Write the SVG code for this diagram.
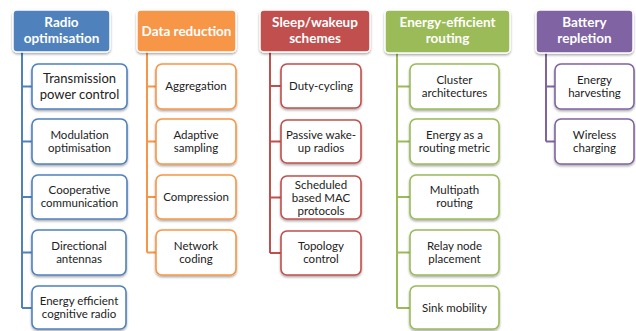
<svg xmlns="http://www.w3.org/2000/svg" width="636" height="331" viewBox="0 0 636 331">
<defs>
<filter id="sh" x="-10%" y="-10%" width="130%" height="140%">
<feDropShadow dx="0" dy="1.5" stdDeviation="1.2" flood-color="#000" flood-opacity="0.35"/>
</filter>
<style>
.h{stroke:#fff;stroke-width:1.5;filter:url(#sh)}
.c{fill:#fff;stroke-width:1.6;filter:url(#sh)}
.ht{font-family:Lato,"Liberation Sans",sans-serif;font-weight:bold;font-size:13.5px;fill:#fff;text-anchor:middle}
.ct{font-family:Lato,"Liberation Sans",sans-serif;font-size:11.5px;fill:#222;text-anchor:middle}
.big{font-size:13px}
.ln{fill:none;stroke-width:2}
.b{stroke:#4F81BD}.o{stroke:#F79646}.r{stroke:#C0504D}.g{stroke:#9BBB59}.p{stroke:#8064A2}
</style>
</defs>
<rect width="636" height="331" fill="#fff"/>
<g id="connectors">
<path class="ln b" d="M22 52V308M22 86.5H32M22 141.5H32M22 197H32M22 252.5H32M22 308H32"/>
<path class="ln o" d="M147 52V252.5M147 86.5H156M147 141.5H156M147 197H156M147 252.5H156"/>
<path class="ln r" d="M270 52V253M270 86H281M270 141.5H281M270 197.5H281M270 253H281"/>
<path class="ln g" d="M397 53V308M397 86.5H410M397 141.5H410M397 197H410M397 252.5H410M397 308H410"/>
<path class="ln p" d="M546 53V141.5M546 86.5H555M546 141.5H555"/>
</g>
<g id="radio">
<rect class="h" x="13" y="10" width="97" height="42" rx="4" fill="#4F81BD"/>
<text class="ht" x="61.5" y="27">Radio</text><text class="ht" x="61.5" y="43">optimisation</text>
</g>
<g id="tpc"><rect class="c b" x="32" y="64" width="95" height="45" rx="6"/>
<text class="ct big" x="79.5" y="83">Transmission</text><text class="ct big" x="79.5" y="99">power control</text></g>
<g id="mod"><rect class="c b" x="32" y="119" width="95" height="45" rx="6"/>
<text class="ct" x="79.5" y="139">Modulation</text><text class="ct" x="79.5" y="152">optimisation</text></g>
<g id="coop"><rect class="c b" x="32" y="175" width="95" height="44" rx="6"/>
<text class="ct" x="79.5" y="194">Cooperative</text><text class="ct" x="79.5" y="207">communication</text></g>
<g id="dir"><rect class="c b" x="32" y="230" width="94" height="45" rx="6"/>
<text class="ct" x="79" y="250">Directional</text><text class="ct" x="79" y="263">antennas</text></g>
<g id="ecr"><rect class="c b" x="32" y="286" width="94" height="43" rx="6"/>
<text class="ct" x="79" y="305">Energy efficient</text><text class="ct" x="79" y="318">cognitive radio</text></g>

<g id="datared">
<rect class="h" x="137" y="10" width="99" height="42" rx="4" fill="#F79646"/>
<text class="ht" x="186.5" y="36">Data reduction</text>
</g>
<g id="agg"><rect class="c o" x="156" y="64" width="80" height="45" rx="6"/>
<text class="ct" x="196" y="90">Aggregation</text></g>
<g id="adapt"><rect class="c o" x="156" y="119" width="80" height="45" rx="6"/>
<text class="ct" x="196" y="139">Adaptive</text><text class="ct" x="196" y="152">sampling</text></g>
<g id="comp"><rect class="c o" x="156" y="175" width="80" height="44" rx="6"/>
<text class="ct" x="196" y="201">Compression</text></g>
<g id="netc"><rect class="c o" x="156" y="230" width="80" height="45" rx="6"/>
<text class="ct" x="196" y="250">Network</text><text class="ct" x="196" y="263">coding</text></g>

<g id="sleep">
<rect class="h" x="260" y="10" width="110" height="42" rx="4" fill="#C0504D"/>
<text class="ht" x="315" y="27">Sleep/wakeup</text><text class="ht" x="315" y="43">schemes</text>
</g>
<g id="duty"><rect class="c r" x="281" y="64" width="80" height="44" rx="6"/>
<text class="ct" x="321" y="90">Duty-cycling</text></g>
<g id="passive"><rect class="c r" x="281" y="120" width="80" height="43" rx="6"/>
<text class="ct" x="321" y="139">Passive wake-</text><text class="ct" x="321" y="152">up radios</text></g>
<g id="sched"><rect class="c r" x="281" y="176" width="80" height="43" rx="6"/>
<text class="ct" x="321" y="189">Scheduled</text><text class="ct" x="321" y="202">based MAC</text><text class="ct" x="321" y="215">protocols</text></g>
<g id="topo"><rect class="c r" x="281" y="231" width="80" height="44" rx="6"/>
<text class="ct" x="321" y="250">Topology</text><text class="ct" x="321" y="263">control</text></g>

<g id="routing">
<rect class="h" x="385" y="10" width="125" height="43" rx="4" fill="#9BBB59"/>
<text class="ht" x="447.5" y="27">Energy-efficient</text><text class="ht" x="447.5" y="43">routing</text>
</g>
<g id="cluster"><rect class="c g" x="410" y="64" width="89" height="45" rx="6"/>
<text class="ct" x="454.5" y="84">Cluster</text><text class="ct" x="454.5" y="97">architectures</text></g>
<g id="metric"><rect class="c g" x="410" y="119" width="89" height="45" rx="6"/>
<text class="ct" x="454.5" y="139">Energy as a</text><text class="ct" x="454.5" y="152">routing metric</text></g>
<g id="multi"><rect class="c g" x="410" y="175" width="89" height="44" rx="6"/>
<text class="ct" x="454.5" y="194">Multipath</text><text class="ct" x="454.5" y="207">routing</text></g>
<g id="relay"><rect class="c g" x="410" y="230" width="89" height="45" rx="6"/>
<text class="ct" x="454.5" y="250">Relay node</text><text class="ct" x="454.5" y="263">placement</text></g>
<g id="sink"><rect class="c g" x="410" y="286" width="89" height="43" rx="6"/>
<text class="ct" x="454.5" y="312">Sink mobility</text></g>

<g id="battery">
<rect class="h" x="536" y="10" width="97" height="43" rx="4" fill="#8064A2"/>
<text class="ht" x="584.5" y="27">Battery</text><text class="ht" x="584.5" y="43">repletion</text>
</g>
<g id="harv"><rect class="c p" x="555" y="64" width="79" height="45" rx="6"/>
<text class="ct" x="594.5" y="84">Energy</text><text class="ct" x="594.5" y="97">harvesting</text></g>
<g id="wless"><rect class="c p" x="555" y="119" width="79" height="45" rx="6"/>
<text class="ct" x="594.5" y="139">Wireless</text><text class="ct" x="594.5" y="152">charging</text></g>
</svg>
